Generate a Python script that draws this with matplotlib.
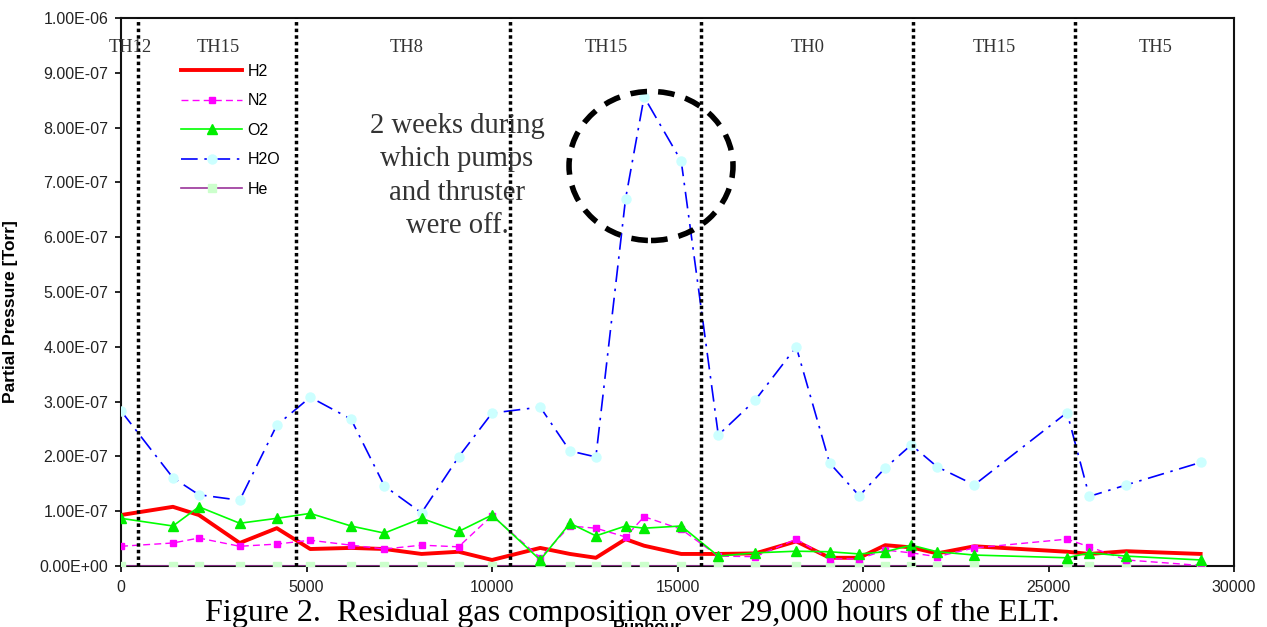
import matplotlib
matplotlib.use("Agg")
import matplotlib.pyplot as plt
from matplotlib.patches import Ellipse

# ---------------- data ----------------
runhours = [0, 1400, 2100, 3200, 4200, 5100, 6200, 7100, 8100, 9100, 10000,
            11300, 12100, 12800, 13600, 14100, 15100, 16100, 17100, 18200,
            19100, 19900, 20600, 21300, 22000, 23000, 25500, 26100, 27100, 29100]

h2 = [0.93, 1.08, 0.93, 0.42, 0.69, 0.31, 0.33, 0.31, 0.22, 0.26, 0.11,
      0.33, 0.22, 0.15, 0.49, 0.37, 0.22, 0.22, 0.23, 0.45, 0.15, 0.15,
      0.38, 0.34, 0.23, 0.36, 0.26, 0.22, 0.27, 0.22]
n2 = [0.36, 0.42, 0.51, 0.36, 0.40, 0.47, 0.38, 0.31, 0.38, 0.35, 0.92,
      0.15, 0.73, 0.69, 0.53, 0.90, 0.67, 0.18, 0.17, 0.49, 0.13, 0.13,
      0.29, 0.24, 0.17, 0.33, 0.49, 0.35, 0.11, 0.01]
o2 = [0.87, 0.73, 1.08, 0.78, 0.87, 0.96, 0.73, 0.60, 0.87, 0.63, 0.93,
      0.11, 0.78, 0.55, 0.73, 0.69, 0.73, 0.18, 0.24, 0.27, 0.26, 0.22,
      0.26, 0.38, 0.26, 0.20, 0.15, 0.24, 0.18, 0.11]
h2o = [2.83, 1.61, 1.30, 1.20, 2.57, 3.08, 2.68, 1.46, 0.97, 1.99, 2.79,
       2.90, 2.10, 1.99, 6.70, 8.56, 7.39, 2.39, 3.03, 4.00, 1.88, 1.28,
       1.79, 2.21, 1.81, 1.48, 2.80, 1.27, 1.48, 1.89]
he = [0.0] * len(runhours)
scale = 1e-7

series_names = ["H2", "N2", "O2", "H2O", "He"]

boundaries = [460, 4720, 10480, 15630, 21350, 25710]
region_labels = ["TH12", "TH15", "TH8", "TH15", "TH0", "TH15", "TH5"]
region_label_x = [243, 2615, 7709, 13073, 18518, 23531, 27898]

x_ticks = [0, 5000, 10000, 15000, 20000, 25000, 30000]
x_tick_labels = ["0", "5000", "10000", "15000", "20000", "25000", "30000"]
y_ticks = [i * 1e-7 for i in range(11)]
y_tick_labels = ["0.00E+00", "1.00E-07", "2.00E-07", "3.00E-07", "4.00E-07",
                 "5.00E-07", "6.00E-07", "7.00E-07", "8.00E-07", "9.00E-07",
                 "1.00E-06"]

annotation = "2 weeks during\nwhich pumps\nand thruster\nwere off."
caption = "Figure 2.  Residual gas composition over 29,000 hours of the ELT."

# ---------------- figure ----------------
W, H = 1267, 627
fig = plt.figure(figsize=(W / 100, H / 100), dpi=100)
ax = fig.add_axes([121 / W, 1 - 566 / H, (1234 - 121) / W, (566 - 18) / H])

sans = "Liberation Sans"
serif = "Liberation Serif"

def sc(v):
    return [a * scale for a in v]

ax.plot(runhours, sc(h2), color="#ff0000", lw=2.8, label=series_names[0], zorder=4)
ax.plot(runhours, sc(n2), color="#ff00ff", lw=1.0, ls=(0, (5, 3)),
        marker="s", ms=5, mfc="#ff00ff", mec="#ff00ff", label=series_names[1], zorder=5)
ax.plot(runhours, sc(o2), color="#00ff00", lw=1.2, marker="^", ms=6.5,
        mfc="#00ee00", mec="#00ee00", label=series_names[2], zorder=6)
ax.plot(runhours, sc(h2o), color="#0000ff", lw=1.2, ls=(0, (10, 4, 1.5, 4)),
        marker="o", ms=6.5, mfc="#ccffff", mec="#ccffff", label=series_names[3], zorder=3)
ax.plot(runhours, sc(he), color="#993399", lw=1.2, marker="s", ms=5.5,
        mfc="#ccffcc", mec="#ccffcc", label=series_names[4], zorder=3)

for b in boundaries:
    ax.axvline(b, color="black", lw=2.5, ls=(0, (1, 0.9)), zorder=7)

for lab, xl in zip(region_labels, region_label_x):
    ax.text(xl, 9.47e-7, lab, ha="center", va="center", fontsize=13.3,
            family=serif, color="#333333", zorder=8)

ax.text(9057, 7.12e-7, annotation, ha="center", va="center", fontsize=20.6,
        family=serif, color="#333333", linespacing=1.37, zorder=8)

ax.add_patch(Ellipse((14286, 7.30e-7), 4420, 2.72e-7, fill=False,
                     edgecolor="black", lw=4, ls=(0, (3, 2)), zorder=9))

ax.set_xlim(0, 30000)
ax.set_ylim(0, 1e-6)
ax.set_xticks(x_ticks)
ax.set_xticklabels(x_tick_labels, fontsize=11.5, family=sans, color="#222222")
ax.set_yticks(y_ticks)
ax.set_yticklabels(y_tick_labels, fontsize=11.5, family=sans, color="#222222")
ax.tick_params(direction="out", length=4, width=1.2, pad=5)
ax.tick_params(axis="x", pad=6)
for s in ax.spines.values():
    s.set_linewidth(1.5)
    s.set_color("#111111")

ax.set_ylabel("Partial Pressure [Torr]", fontsize=12.5, fontweight="bold",
              family=sans)
ax.yaxis.set_label_coords(-0.0925, 0.465)
ax.set_xlabel("Runhour", fontsize=12, fontweight="bold", family=sans, va="top")
ax.xaxis.set_label_coords(0.473, -0.0985)

leg = ax.legend(loc="upper left", bbox_to_anchor=(181 / W, 1 - 64 / H),
                bbox_transform=fig.transFigure, frameon=False,
                prop={"family": sans, "size": 11.5}, handlelength=3.85,
                handletextpad=0.3, labelspacing=0.9, borderpad=0,
                borderaxespad=0)
leg.set_zorder(10)

fig.text(632 / W, 6 / H, caption, ha="center", va="baseline",
         fontsize=23.1, family=serif, color="black", zorder=20)

fig.savefig("out.png", dpi=100)
